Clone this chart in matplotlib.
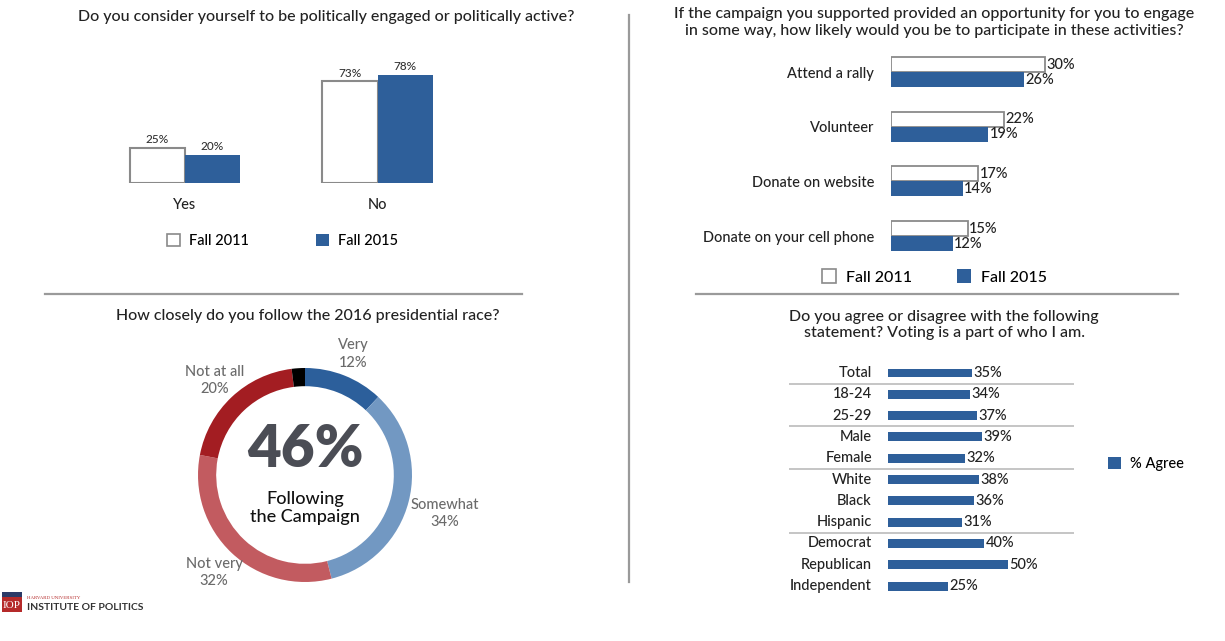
import matplotlib
matplotlib.use("Agg")
import matplotlib.pyplot as plt
from matplotlib.patches import Patch, Rectangle
from matplotlib.lines import Line2D
import numpy as np

plt.rcParams['font.family'] = ['Lato', 'DejaVu Sans']
plt.rcParams['font.weight'] = 'medium'

W, H = 1225, 641

# --- data ---
engaged_cats = ['Yes', 'No']
engaged_2011 = [25, 73]
engaged_2015 = [20, 78]

activities = ['Attend a rally', 'Volunteer', 'Donate on website', 'Donate on your cell phone']
act_2011 = [30, 22, 17, 15]
act_2015 = [26, 19, 14, 12]

follow_labels = ['Very', 'Somewhat', 'Not very', 'Not at all', "Don't know"]
follow_values = [12, 34, 32, 20, 2]

groups = ['Total', '18-24', '25-29', 'Male', 'Female', 'White', 'Black',
          'Hispanic', 'Democrat', 'Republican', 'Independent']
agree = [35, 34, 37, 39, 32, 38, 36, 31, 40, 50, 25]
group_sizes = [1, 2, 2, 3, 3]

BLUE = '#2e5f9a'
EDGE = '#8a8a8a'
TXT = '#222222'
TITLE_FS = 11.5

fig = plt.figure(figsize=(W / 100, H / 100), dpi=100)


def px_axes(x0, y0, x1, y1):
    ax = fig.add_axes([x0 / W, 1 - y1 / H, (x1 - x0) / W, (y1 - y0) / H])
    for s in ax.spines.values():
        s.set_visible(False)
    return ax


def ftext(x, y, s, **kw):
    kw.setdefault('ha', 'center')
    kw.setdefault('va', 'center')
    kw.setdefault('color', TXT)
    fig.text(x / W, 1 - y / H, s, **kw)


def fline(xs, ys, **kw):
    fig.add_artist(Line2D([v / W for v in xs], [1 - v / H for v in ys],
                          color='#9a9a9a', lw=1.6, **kw))


# separators
fline([45, 522], [294, 294])
fline([696, 1178], [294, 294])
fline([629, 629], [15, 582])

# ---------- panel 1: engaged ----------
ftext(326, 17, 'Do you consider yourself to be politically engaged or politically active?',
      fontsize=TITLE_FS)
ax1 = px_axes(100, 58, 470, 183)
x = np.arange(len(engaged_cats))
w = 0.286
b1 = ax1.bar(x - w / 2, engaged_2011, w, facecolor='white', edgecolor=EDGE, lw=1.5)
b2 = ax1.bar(x + w / 2, engaged_2015, w, color=BLUE)
ax1.bar_label(b1, fmt='%d%%', padding=2, fontsize=8.5, color='#333')
ax1.bar_label(b2, fmt='%d%%', padding=2, fontsize=8.5, color='#333')
ax1.set_xlim(-0.4416, 1.4805)
ax1.set_ylim(0, 89.9)
ax1.set_xticks(x, engaged_cats, fontsize=10.5, color=TXT)
ax1.tick_params(axis='x', length=0, pad=11)
ax1.set_yticks([])

leg_handles = [Patch(facecolor='white', edgecolor=EDGE, lw=1.2), Patch(facecolor=BLUE)]
fig.legend(leg_handles, ['Fall 2011', 'Fall 2015'], ncol=2, loc='center left',
           bbox_to_anchor=(167 / W, 1 - 241 / H), frameon=False, fontsize=10.5,
           handlelength=0.9, handleheight=0.9, handletextpad=0.6,
           columnspacing=4.6, borderpad=0, borderaxespad=0)

# ---------- panel 2: activities ----------
ftext(934, 22.5, 'If the campaign you supported provided an opportunity for you to engage\n'
      'in some way, how likely would you be to participate in these activities?',
      fontsize=TITLE_FS, linespacing=1.2)
ax2 = px_axes(891, 45, 1110, 260)
y = np.arange(len(activities))
h = 0.274
c1 = ax2.barh(y - h / 2, act_2011, h, facecolor='white', edgecolor=EDGE, lw=1.3)
c2 = ax2.barh(y + h / 2, act_2015, h, color=BLUE)
ax2.bar_label(c1, fmt='%d%%', padding=1, fontsize=10.5, color=TXT)
ax2.bar_label(c2, fmt='%d%%', padding=1, fontsize=10.5, color=TXT)
ax2.set_xlim(0, 42.7)
ax2.set_ylim(3.437, -0.494)
ax2.set_yticks(y, activities, fontsize=10.5, color=TXT)
ax2.tick_params(axis='y', length=0, pad=12)
ax2.set_xticks([])

fig.legend(leg_handles, ['Fall 2011', 'Fall 2015'], ncol=2, loc='center left',
           bbox_to_anchor=(822 / W, 1 - 277 / H), frameon=False, fontsize=11.5,
           handlelength=0.9, handleheight=0.9, handletextpad=0.6,
           columnspacing=2.8, borderpad=0, borderaxespad=0)

# ---------- panel 3: donut ----------
ftext(308, 316, 'How closely do you follow the 2016 presidential race?', fontsize=TITLE_FS)
ax3 = px_axes(198, 368, 412, 582)
donut_colors = ['#2c5f9b', '#7298c2', '#c25b60', '#a31d22', '#000000']
ax3.pie(follow_values, colors=donut_colors, startangle=90, counterclock=False,
        radius=1, wedgeprops=dict(width=0.17, edgecolor='none'))
ax3.set_xlim(-1, 1)
ax3.set_ylim(-1, 1)
label_pos = [(0.45, 1.13), (1.31, -0.36), (-0.85, -0.91), (-0.84, 0.88)]
for (lx, ly), lab, val in zip(label_pos, follow_labels, follow_values):
    ax3.text(lx, ly, f'{lab}\n{val}%', ha='center', va='center', fontsize=10.5,
             color='#6b6b6b', linespacing=1.3, clip_on=False)
following = follow_values[0] + follow_values[1]
ax3.text(0, 0.235, f'{following}%', ha='center', va='center', fontsize=42,
         fontweight='heavy', color='#4b4d55')
ax3.text(0, -0.31, 'Following\nthe Campaign', ha='center', va='center',
         fontsize=13, color='#111', linespacing=1.15)

# ---------- panel 4: voting identity ----------
ftext(944, 325, 'Do you agree or disagree with the following\nstatement? Voting is a part of who I am.',
      fontsize=TITLE_FS, linespacing=1.2)
ax4 = px_axes(789, 360, 1074, 598)
rows = np.arange(len(groups))
d = ax4.barh(rows, agree, 0.42, color=BLUE)
ax4.bar_label(d, fmt='%d%%', padding=1, fontsize=10.5, color=TXT)
ax4.set_xlim(-41.25, 77.5)
ax4.set_ylim(10.56, -0.61)
ax4.set_xticks([])
ax4.set_yticks([])
for r, g in zip(rows, groups):
    ax4.text(-6.7, r, g, ha='right', va='center', fontsize=10.5, color=TXT)
for bnd in np.cumsum(group_sizes)[:-1]:
    ax4.axhline(bnd - 0.5, color='#b5b5b5', lw=1.1)
fig.legend([Patch(facecolor=BLUE)], ['% Agree'], loc='center left',
           bbox_to_anchor=(1108 / W, 1 - 464 / H), frameon=False, fontsize=10.5,
           handlelength=0.9, handleheight=0.9, handletextpad=0.6,
           borderpad=0, borderaxespad=0)

# ---------- logo ----------
fig.add_artist(Rectangle((2 / W, 1 - 597 / H), 20 / W, 5 / H, transform=fig.transFigure,
                         facecolor='#2b3a67', edgecolor='none'))
fig.add_artist(Rectangle((2 / W, 1 - 612 / H), 20 / W, 15 / H, transform=fig.transFigure,
                         facecolor='#b52a2a', edgecolor='none'))
ftext(12, 605.5, 'IOP', fontsize=8, color='white', family='Liberation Serif')
ftext(27, 598, 'HARVARD UNIVERSITY', fontsize=3.5, color='#b52a2a', ha='left',
      family='Liberation Serif')
ftext(27, 607, 'INSTITUTE OF POLITICS', fontsize=7.5, color='#333', ha='left',
      fontweight='bold')

fig.savefig('out.png', dpi=100, facecolor='white')
